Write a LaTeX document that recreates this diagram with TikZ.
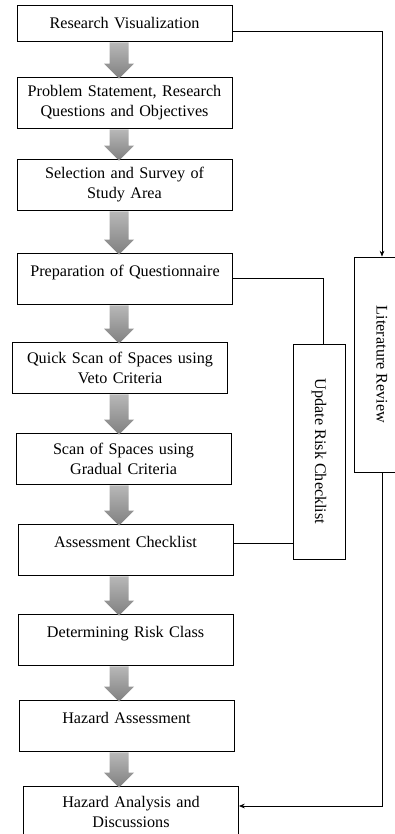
\documentclass[tikz,border=0pt]{standalone}
\usepackage{fontspec}
\usepackage{graphicx}
\setmainfont{Liberation Serif}
\usetikzlibrary{arrows.meta,calc}

\tikzset{
  stepbox/.style={draw, line width=0.7pt, minimum width=6.45cm, minimum height=1.53cm,
    text width=6.2cm, align=center, inner sep=1pt, font=\fontsize{13.8}{17}\selectfont},
  raisedtext/.style={text height=0.7em, text depth=1.0em},
  sidebox/.style={draw, line width=0.7pt, minimum height=6.45cm, inner sep=1pt,
    font=\fontsize{13.8}{17}\selectfont},
  link/.style={line width=0.6pt},
  flowfill/.style={top color=black!28, bottom color=black!50, draw=none}
}

% grey block arrow between two boxes
\newcommand{\flowarrow}[2]{%
  \shade[flowfill] ($(#1.south -| axis)+(-9.5,1)$) -- ($(#2.north -| axis)+(-9.5,-13)$)
    -- ++(-5.5,0) -- ($(#2.north -| axis)+(0,2)$) -- ($(#2.north -| axis)+(15,-13)$)
    -- ++(-5.5,0) -- ($(#1.south -| axis)+(9.5,1)$) -- cycle;}

\begin{document}
\begin{tikzpicture}[x=0.03cm, y=-0.03cm]
        \useasboundingbox (0,0) rectangle (395,834);
        \coordinate (axis) at (119,0);

        % main column
        \node[stepbox, minimum height=1.08cm] (rv) at (124.5,23) {Research Visualization};
        \node[stepbox] (ps) at (124.5,102.5) {Problem Statement, Research\\Questions and Objectives};
        \node[stepbox] (ss) at (124.5,184.5) {Selection and Survey of\\Study Area};
        \node[stepbox, raisedtext] (pq) at (125,278.5) {Preparation of Questionnaire};
        \node[stepbox] (qs) at (120,367.5) {Quick Scan of Spaces using\\Veto Criteria};
        \node[stepbox] (sg) at (123.5,458.5) {Scan of Spaces using\\Gradual Criteria};
        \node[stepbox, raisedtext] (ac) at (125.5,549.5) {Assessment Checklist};
        \node[stepbox, raisedtext] (dr) at (125.5,639.5) {Determining Risk Class};
        \node[stepbox, raisedtext] (hz) at (126.5,725.5) {Hazard Assessment};
        \node[stepbox, minimum height=1.56cm] (ha) at (131,812) {Hazard Analysis and\\Discussions};

        % side boxes
        \node[sidebox, minimum width=1.56cm] (upd) at (319,451.5) {\rotatebox{-90}{Update Risk Checklist}};
        \node[sidebox, minimum width=1.68cm] (lit) at (382,364.5) {\rotatebox{-90}{Literature Review}};

        % block arrows
        \flowarrow{rv}{ps}
        \flowarrow{ps}{ss}
        \flowarrow{ss}{pq}
        \flowarrow{pq}{qs}
        \flowarrow{qs}{sg}
        \flowarrow{sg}{ac}
        \flowarrow{ac}{dr}
        \flowarrow{dr}{hz}
        \flowarrow{hz}{ha}

        % side links
        \draw[link, -{Stealth[length=5pt, width=4pt]}] ([yshift=-0.24cm]rv.east) -| (lit.north);
        \draw[link] (pq.east) -| ([xshift=0.12cm]upd.north);
        \draw[link] ([yshift=0.18cm]ac.east) coordinate (acout) -- (acout -| upd.west);
        \draw[link, -{Stealth[length=5pt, width=4pt]}] (lit.south) |- ([yshift=0.18cm]ha.east);
    \end{tikzpicture}
\end{document}
